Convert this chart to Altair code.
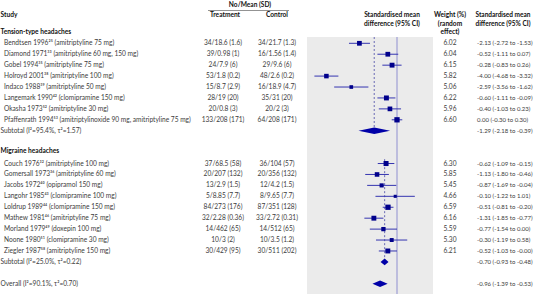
import altair as alt
import pandas as pd

# ---------------- data ----------------
t_names = [
    "Bendtsen 1996²⁵ (amitriptyline 75 mg)",
    "Diamond 1971³³ (amitriptyline 60 mg, 150 mg)",
    "Gobel 1994³⁵ (amitriptyline 75 mg)",
    "Holroyd 2001³⁸ (amitriptyline 100 mg)",
    "Indaco 1988³⁹ (amitriptyline 50 mg)",
    "Langemark 1990⁴² (clomipramine 150 mg)",
    "Okasha 1973⁵² (amitriptyline 30 mg)",
    "Pfaffenrath 1994⁵³ (amitriptylinoxide 90 mg, amitriptyline 75 mg)",
]
t_treat = ["34/18.6 (1.6)", "39/0.98 (1)", "24/7.9 (6)", "53/1.8 (0.2)",
           "15/8.7 (2.9)", "28/19 (20)", "20/0.8 (3)", "133/208 (171)"]
t_ctrl = ["34/21.7 (1.3)", "16/1.56 (1.4)", "29/9.6 (6)", "48/2.6 (0.2)",
          "16/18.9 (4.7)", "35/31 (20)", "20/2 (3)", "64/208 (171)"]
t_weight = [6.02, 6.04, 6.15, 5.82, 5.06, 6.22, 5.96, 6.60]
t_smd = [-2.13, -0.52, -0.28, -4.00, -2.59, -0.60, -0.40, 0.00]
t_lo = [-2.72, -1.11, -0.83, -4.68, -3.56, -1.11, -1.03, -0.30]
t_hi = [-1.53, 0.07, 0.26, -3.32, -1.62, -0.09, 0.23, 0.30]

m_names = [
    "Couch 1976³² (amitriptyline 100 mg)",
    "Gomersall 1973³⁶ (amitriptyline 60 mg)",
    "Jacobs 1972⁴⁰ (opipramol 150 mg)",
    "Langohr 1985⁴³ (clomipramine 100 mg)",
    "Loldrup 1989⁴⁴ (clomipramine 150 mg)",
    "Mathew 1981⁴⁶ (amitriptyline 75 mg)",
    "Morland 1979⁴⁹ (doxepin 100 mg)",
    "Noone 1980⁵¹ (clomipramine 30 mg)",
    "Ziegler 1987⁵⁸ (amitriptyline 150 mg)",
]
m_treat = ["37/68.5 (58)", "20/207 (132)", "13/2.9 (1.5)", "5/8.85 (7.7)",
           "84/273 (176)", "32/2.28 (0.36)", "14/462 (65)", "10/3 (2)", "30/429 (95)"]
m_ctrl = ["36/104 (57)", "20/356 (132)", "12/4.2 (1.5)", "8/9.65 (7.7)",
          "87/351 (128)", "33/2.72 (0.31)", "14/512 (65)", "10/3.5 (1.2)", "30/511 (202)"]
m_weight = [6.30, 5.85, 5.45, 4.66, 6.59, 6.16, 5.59, 5.30, 6.21]
m_smd = [-0.62, -1.13, -0.87, -0.10, -0.51, -1.31, -0.77, -0.30, -0.52]
m_lo = [-1.09, -1.80, -1.69, -1.22, -0.81, -1.85, -1.54, -1.19, -1.03]
m_hi = [-0.15, -0.46, -0.04, 1.01, -0.20, -0.77, 0.00, 0.58, -0.00]

group_names = ["Tension-type headaches", "Migraine headaches"]
sub_labels = ["Subtotal (I²=95.4%, τ²=1.57)", "Subtotal (I²=25.0%, τ²=0.22)"]
sub_est = [-1.29, -0.70]
sub_lo = [-2.18, -0.93]
sub_hi = [-0.39, -0.48]
overall_label = "Overall (I²=90.1%, τ²=0.70)"
overall_est, overall_lo, overall_hi = -0.96, -1.39, -0.53
axis_ticks = [-5, -4, -3, -2, -1, 0, 1, 2]
null_effect = [0]

# ---------------- layout constants ----------------
W, H = 534, 304
ZERO_PX, PX_PER_UNIT = 397.0, 17.65
ROW0_PX, ROW_PX = 43.3, 10.93
FONT = "Lato"
FS = 6.6
FS_CI = 6.0
TXT = "#3c3c3c"
NAVY = "#00008b"
LINE = "#3535b0"

def fmt_ci(e, l, h):
    return f"{e:.2f} ({l:.2f} to {h:.2f})"

# ---------------- tables ----------------
study_rows = []
k = 0
for n, tr, ct, w, e, l, h in zip(t_names, t_treat, t_ctrl, t_weight, t_smd, t_lo, t_hi):
    study_rows.append(dict(k=k, label=n, treat=tr, ctrl=ct, weight=w, wtxt=f"{w:.2f}",
                           smd=e, lo=l, hi=h, ci=fmt_ci(e, l, h)))
    k += 1
t_sub_k = k
m_head_k = k + 2
k = m_head_k + 1
for n, tr, ct, w, e, l, h in zip(m_names, m_treat, m_ctrl, m_weight, m_smd, m_lo, m_hi):
    study_rows.append(dict(k=k, label=n, treat=tr, ctrl=ct, weight=w, wtxt=f"{w:.2f}",
                           smd=e, lo=l, hi=h, ci=fmt_ci(e, l, h)))
    k += 1
m_sub_k = k
overall_k = k + 2
studies = pd.DataFrame(study_rows)

heads = pd.DataFrame(dict(k=[-1, m_head_k - 0.15], label=group_names))

summ = pd.DataFrame(dict(
    k=[t_sub_k, m_sub_k, overall_k],
    label=sub_labels + [overall_label],
    est=sub_est + [overall_est],
    lo=sub_lo + [overall_lo],
    hi=sub_hi + [overall_hi],
))
summ["ci"] = [fmt_ci(e, l, h) for e, l, h in zip(summ.est, summ.lo, summ.hi)]

# diamond polygons
dh = 0.3
dia_rows = []
for i, r in summ.iterrows():
    dia_rows += [
        dict(g=i, x=r.lo, ya=r.k, yb=r.k),
        dict(g=i, x=r.est, ya=r.k - dh, yb=r.k + dh),
        dict(g=i, x=r.hi, ya=r.k, yb=r.k),
    ]
diamonds = pd.DataFrame(dia_rows)

panel_top_k = (37 - ROW0_PX) / ROW_PX
dashes = pd.DataFrame(dict(est=sub_est, k0=[panel_top_k, m_head_k + 0.6], k1=[t_sub_k, m_sub_k]))
zero_df = pd.DataFrame(dict(v=null_effect))

# ---------------- scales ----------------
xscale = alt.Scale(domain=[-ZERO_PX / PX_PER_UNIT, (W - ZERO_PX) / PX_PER_UNIT], nice=False, zero=False)
yscale = alt.Scale(domain=[-ROW0_PX / ROW_PX, (H - ROW0_PX) / ROW_PX], nice=False, zero=False, reverse=True)

def X(f, axis=None):
    return alt.X(f, type="quantitative", scale=xscale, axis=axis)

def Y(f):
    return alt.Y(f, type="quantitative", scale=yscale, axis=None)

dummy = pd.DataFrame({"a": [0]})

panel = alt.Chart(dummy).mark_rect(color="#ebebeb").encode(
    x=alt.value(307), x2=alt.value(433), y=alt.value(37), y2=alt.value(294))

zero_line = alt.Chart(zero_df).mark_rule(color="#8f8fd0", strokeWidth=1).encode(
    x=X("v"), y=alt.value(37), y2=alt.value(294))

dash_lines = alt.Chart(dashes).mark_rule(color="#4a4aa8", strokeWidth=0.8, strokeDash=[2, 2]).encode(
    x=X("est"), y=Y("k0"), y2="k1")

ci_lines = alt.Chart(studies).mark_rule(color=LINE, strokeWidth=1).encode(
    x=X("lo", axis=alt.Axis(values=axis_ticks, ticks=False, domain=False, grid=False, title=None,
                            labelFont=FONT, labelFontSize=7, labelColor="#555", offset=-10,
                            labelPadding=1, format="d")),
    x2="hi", y=Y("k"))

squares = alt.Chart(studies).mark_square(color=NAVY, opacity=1).encode(
    x=X("smd"), y=Y("k"),
    size=alt.Size("weight:Q", scale=alt.Scale(domain=[4.6, 6.6], range=[9, 28]), legend=None))

dia = alt.Chart(diamonds).mark_area(color="#0000a8", opacity=1).encode(
    x=X("x"), y=Y("ya"), y2="yb", detail="g:N")

def col_text(df, field, xpx, align="left", bold=False, color=TXT, size=FS):
    return alt.Chart(df).mark_text(align=align, baseline="middle", font=FONT, fontSize=size,
                                   fontWeight="bold" if bold else "normal", color=color).encode(
        x=alt.value(xpx), y=Y("k"), text=f"{field}:N")

labels = col_text(studies, "label", 4)
treat = col_text(studies, "treat", 223, "center")
ctrl = col_text(studies, "ctrl", 277, "center")
wt = col_text(studies, "wtxt", 450, "center")
ci = col_text(studies, "ci", 477, size=FS_CI)
head_t = col_text(heads, "label", 0.5, bold=True, color="#111")
sum_lab = col_text(summ, "label", 0.5)
sum_ci = col_text(summ, "ci", 477, size=FS_CI)

def hdr(text, xpx, ypx, align="center", bold=True, size=FS):
    return alt.Chart(dummy).mark_text(text=text, align=align, baseline="middle", font=FONT,
                                      fontSize=size, fontWeight="bold" if bold else "normal",
                                      color="#111").encode(x=alt.value(xpx), y=alt.value(ypx))

headers = [
    hdr("No/Mean (SD)", 250, 5),
    hdr("Study", 0.5, 15, "left"),
    hdr("Treatment", 225, 15),
    hdr("Control", 277, 15),
    hdr("Standardised mean", 392, 15),
    hdr("difference (95% CI)", 392, 24),
    hdr("Weight (%)", 450, 15),
    hdr("(random", 450, 24),
    hdr("effect)", 450, 32),
    hdr("Standardised mean", 503, 15, size=6.5),
    hdr("difference (95% CI)", 503, 24, size=6.5),
]
underline = alt.Chart(dummy).mark_rule(color="#777", strokeWidth=0.8).encode(
    x=alt.value(208), x2=alt.value(289), y=alt.value(10.5))

chart = alt.layer(
    panel, zero_line, dash_lines, ci_lines, squares, dia,
    labels, treat, ctrl, wt, ci, head_t, sum_lab, sum_ci, underline, *headers
).properties(
    width=W, height=H, padding=0, autosize=alt.AutoSizeParams(type="none"),
    background="white",
).configure_view(stroke=None)

chart.save("out.html", embed_options={"renderer": "svg", "actions": False})
